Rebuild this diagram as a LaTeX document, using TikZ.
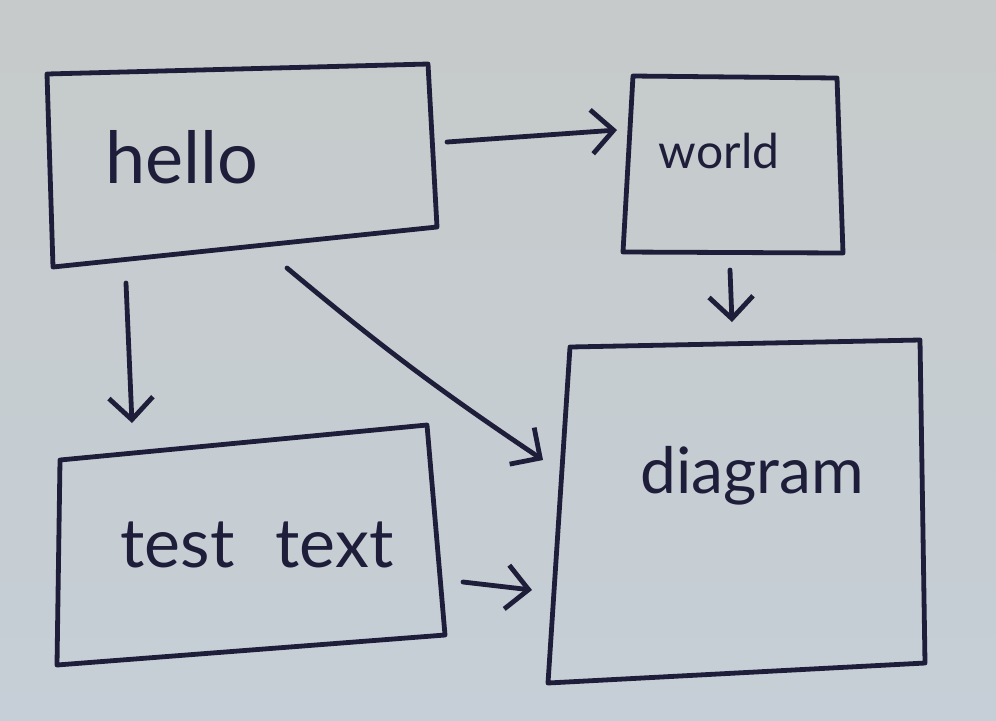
\documentclass[tikz,border=0pt]{standalone}
\usepackage{fontspec}
\setmainfont{Lato}
\usetikzlibrary{arrows.meta}
\definecolor{papertop}{RGB}{198,202,202}
\definecolor{paperbot}{RGB}{198,207,215}
\definecolor{ink}{RGB}{30,30,58}
\begin{document}
\begin{tikzpicture}[x=0.5pt,y=-0.5pt,
  inkline/.style={draw=ink, line width=2.4pt, line cap=round, line join=round},
  conn/.style={inkline, -{Straight Barb[length=11pt,width=22pt]}},
  lbl/.style={text=ink, anchor=base, inner sep=0pt}]
\shade[top color=papertop, bottom color=paperbot] (0,0) rectangle (996,720);
\useasboundingbox (0,0) rectangle (996,720);
% box corners
\coordinate (h1) at (47,74);  \coordinate (h2) at (428,64);
\coordinate (h3) at (437,227); \coordinate (h4) at (53,267);
\coordinate (w1) at (633,76); \coordinate (w2) at (837,78);
\coordinate (w3) at (843,253); \coordinate (w4) at (623,252);
\coordinate (d1) at (570,347); \coordinate (d2) at (920,340);
\coordinate (d3) at (925,663); \coordinate (d4) at (548,683);
\coordinate (t1) at (60,460); \coordinate (t2) at (427,425);
\coordinate (t3) at (445,635); \coordinate (t4) at (57,665);
\draw[inkline] (h1) -- (h2) -- (h3) -- (h4) -- cycle;
\draw[inkline] (w1) -- (w2) -- (w3) -- (w4) -- cycle;
\draw[inkline] (d1) -- (d2) -- (d3) -- (d4) -- cycle;
\draw[inkline] (t1) -- (t2) -- (t3) -- (t4) -- cycle;
% labels
\node[lbl, font=\fontsize{36}{40}\selectfont] (hello) at (182,183) {hello};
\node[lbl, font=\fontsize{24}{28}\selectfont] (world) at (719,168) {world};
\node[lbl, font=\fontsize{32}{36}\selectfont] (diagram) at (752,493) {diagram};
\node[lbl, font=\fontsize{34}{38}\selectfont] (testtext) at (257,567) {test\hspace{0.6em}text};
% connector ends
\coordinate (a1s) at (447,142); \coordinate (a1e) at (617,130);
\coordinate (a2s) at (730,270); \coordinate (a2e) at (732,322);
\coordinate (a3s) at (126,283); \coordinate (a3e) at (132,423);
\coordinate (a4s) at (287,268); \coordinate (a4e) at (543,460);
\coordinate (a5s) at (463,582); \coordinate (a5e) at (532,590);
\draw[conn] (a1s) -- (a1e);
\draw[conn] (a2s) -- (a2e);
\draw[conn] (a3s) -- (a3e);
\draw[conn] (a4s) to[bend right=3] (a4e);
\draw[conn] (a5s) -- (a5e);
\end{tikzpicture}
\end{document}
